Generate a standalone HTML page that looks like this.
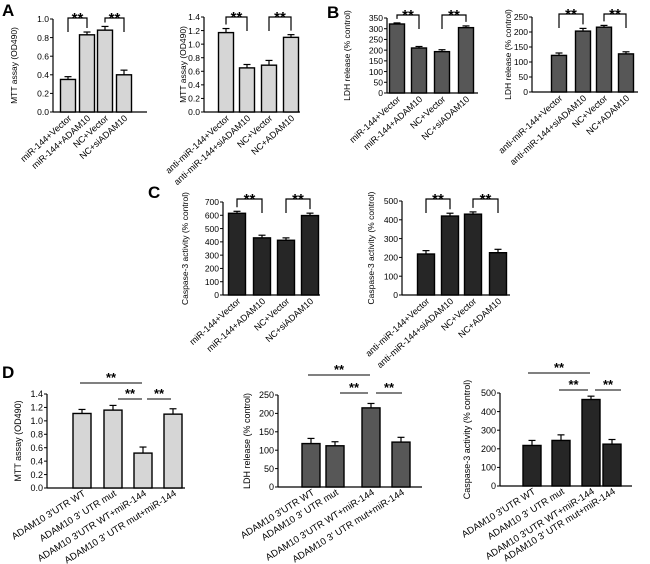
<!DOCTYPE html>
<html><head><meta charset="utf-8"><style>
html,body{margin:0;padding:0;background:#fff;}
svg{display:block;font-family:"Liberation Sans",Arial,sans-serif;}
</style></head><body>
<svg id="fig" width="650" height="564" viewBox="0 0 650 564">
<text x="2" y="16" font-size="17" font-weight="bold">A</text>
<text x="327" y="18" font-size="17" font-weight="bold">B</text>
<text x="148" y="198" font-size="17" font-weight="bold">C</text>
<text x="2" y="378" font-size="17" font-weight="bold">D</text>
</svg>
<script>
const catsA1 = ["miR-144+Vector","miR-144+ADAM10","NC+Vector","NC+siADAM10"];
const catsA2 = ["anti-miR-144+Vector","anti-miR-144+siADAM10","NC+Vector","NC+ADAM10"];
const catsD = ["ADAM10 3'UTR WT","ADAM10 3' UTR mut","ADAM10 3'UTR WT+miR-144","ADAM10 3' UTR mut+miR-144"];
const a1Values = [0.35,0.83,0.88,0.40]; const a1Errors = [0.03,0.03,0.04,0.05];
const a2Values = [1.17,0.65,0.69,1.10]; const a2Errors = [0.06,0.05,0.07,0.04];
const b1Values = [322,210,193,305]; const b1Errors = [5,7,9,8];
const b2Values = [122,203,216,127]; const b2Errors = [8,9,6,7];
const c1Values = [615,430,412,598]; const c1Errors = [15,20,18,18];
const c2Values = [218,420,430,225]; const c2Errors = [18,15,12,18];
const d1Values = [1.11,1.16,0.52,1.10]; const d1Errors = [0.06,0.07,0.09,0.08];
const d2Values = [118,112,215,122]; const d2Errors = [14,11,12,13];
const d3Values = [218,245,465,225]; const d3Errors = [27,30,18,25];
const ticksMTT1 = ["0.0","0.2","0.4","0.6","0.8","1.0"];
const ticksMTT14 = ["0.0","0.2","0.4","0.6","0.8","1.0","1.2","1.4"];
const ticksLDH350 = ["0","50","100","150","200","250","300","350"];
const ticksLDH250 = ["0","50","100","150","200","250"];
const ticksC700 = ["0","100","200","300","400","500","600","700"];
const ticksC500 = ["0","100","200","300","400","500"];

const svg = document.getElementById('fig');
const NS = 'http://www.w3.org/2000/svg';
function mk(tag, attrs, parent){
  const e = document.createElementNS(NS, tag);
  for (const k in attrs) e.setAttribute(k, attrs[k]);
  (parent||svg).appendChild(e); return e;
}
function panel(p){
  const g = mk('g', {});
  
  
  const ticks = p.ticks;
  const ymax = parseFloat(ticks[ticks.length-1]);
  const yScale = v => p.y0 - (v / ymax) * (p.y0 - p.yTop);
  const ya = mk('line', {x1:p.ax, y1:p.yTop, x2:p.ax, y2:p.y0, stroke:'#000','stroke-width':1.2}, g);
  
  
  const xa = mk('line', {x1:p.ax, y1:p.y0, x2:p.axEnd, y2:p.y0, stroke:'#000','stroke-width':1.2}, g);
  
  
  ticks.forEach(t => {
    const y = yScale(parseFloat(t));
    mk('line', {x1:p.ax-3, y1:y, x2:p.ax, y2:y, stroke:'#000','stroke-width':1}, g);
    const tx = mk('text', {x:p.ax-4, y:y+3.2, 'font-size':p.fs, 'text-anchor':'end'}, g);
    tx.textContent = t;
    
    
  });
  const yl = mk('text', {x:0, y:0, 'font-size':p.fs, 'text-anchor':'middle',
    transform:`translate(${p.ylx},${(p.y0+p.yTop)/2}) rotate(-90)`}, g);
  yl.textContent = p.ylabel;
  
  
  p.values.forEach((v, i) => {
    const cx = p.bx[i];
    const top = yScale(v), eTop = yScale(v + p.errors[i]);
    mk('line', {x1:cx, y1:eTop, x2:cx, y2:top, stroke:'#000','stroke-width':1.2}, g);
    mk('line', {x1:cx-3.5, y1:eTop, x2:cx+3.5, y2:eTop, stroke:'#000','stroke-width':1.2}, g);
    const r = mk('rect', {x:cx-p.bw/2, y:top, width:p.bw, height:p.y0-top, fill:p.color, stroke:'#000','stroke-width':1.4}, g);
    
    
    const lt = mk('text', {x:0, y:0, 'font-size':p.xfs, 'text-anchor':'end',
      transform:`translate(${cx+4},${p.y0+7}) rotate(${p.rot})`}, g);
    lt.textContent = p.cats[i];
    
    
  });
  if (p.brY !== undefined) {
    [[0,1],[2,3]].forEach(([a,b]) => {
      const la = Math.min(yScale(p.values[a]+p.errors[a]) - 4, p.brY + 14);
      const lb = Math.min(yScale(p.values[b]+p.errors[b]) - 4, p.brY + 14);
      const pl = mk('polyline', {points:`${p.bx[a]},${la} ${p.bx[a]},${p.brY} ${p.bx[b]},${p.brY} ${p.bx[b]},${lb}`, fill:'none', stroke:'#000','stroke-width':1.2}, g);
      
      
      const st = mk('text', {x:(p.bx[a]+p.bx[b])/2, y:p.brY+5, 'font-size':15, 'font-weight':'bold', 'text-anchor':'middle'}, g);
      st.textContent = '**';
      
      
    });
  }
  if (p.lines) {
    p.lines.forEach(L => {
      const ln = mk('line', {x1:L[0], y1:L[2], x2:L[1], y2:L[2], stroke:'#000','stroke-width':1}, g);
      
      
      const st = mk('text', {x:(L[0]+L[1])/2, y:L[2]-1, 'font-size':13, 'font-weight':'bold', 'text-anchor':'middle'}, g);
      st.textContent = '**';
      
      
    });
  }
}
const LIGHT = '#d6d6d6', MID = '#575757', DARK = '#262626';
panel({name:'panel-a-left', ticks:ticksMTT1, values:a1Values, errors:a1Errors, cats:catsA1, ax:53, axEnd:147, y0:112, yTop:19, bx:[68,87,105,124], bw:15, color:LIGHT, ylabel:'MTT assay (OD490)', ylx:17, fs:8.5, xfs:9, rot:-42, brY:18});
panel({name:'panel-a-right', ticks:ticksMTT14, values:a2Values, errors:a2Errors, cats:catsA2, ax:204, axEnd:300, y0:112, yTop:17, bx:[226,247,269,291], bw:15, color:LIGHT, ylabel:'MTT assay (OD490)', ylx:186, fs:8.5, xfs:9, rot:-42, brY:17});
panel({name:'panel-b-left', ticks:ticksLDH350, values:b1Values, errors:b1Errors, cats:catsA1, ax:387, axEnd:478, y0:93, yTop:18, bx:[397,419,442,466], bw:15, color:MID, ylabel:'LDH release (% control)', ylx:350, fs:8.5, xfs:9, rot:-42, brY:15});
panel({name:'panel-b-right', ticks:ticksLDH250, values:b2Values, errors:b2Errors, cats:catsA2, ax:532, axEnd:638, y0:92, yTop:17, bx:[559,583,604,626], bw:15, color:MID, ylabel:'LDH release (% control)', ylx:511, fs:8.5, xfs:9, rot:-42, brY:14});
panel({name:'panel-c-left', ticks:ticksC700, values:c1Values, errors:c1Errors, cats:catsA1, ax:223, axEnd:320, y0:295, yTop:202, bx:[237,262,286,310], bw:17, color:DARK, ylabel:'Caspase-3 activity (% control)', ylx:188, fs:8.5, xfs:9, rot:-42, brY:199});
panel({name:'panel-c-right', ticks:ticksC500, values:c2Values, errors:c2Errors, cats:catsA2, ax:402, axEnd:510, y0:295, yTop:201, bx:[426,450,473,498], bw:17, color:DARK, ylabel:'Caspase-3 activity (% control)', ylx:374, fs:8.5, xfs:9, rot:-42, brY:199});
panel({name:'panel-d-left', ticks:ticksMTT14, values:d1Values, errors:d1Errors, cats:catsD, ax:47, axEnd:185, y0:488, yTop:394, bx:[82,113,143,173], bw:18, color:LIGHT, ylabel:'MTT assay (OD490)', ylx:21, fs:9, xfs:9.5, rot:-32, lines:[[80,142,383],[118,142,399],[147,171,399]]});
panel({name:'panel-d-middle', ticks:ticksLDH250, values:d2Values, errors:d2Errors, cats:catsD, ax:278, axEnd:422, y0:487, yTop:395, bx:[311,335,371,401], bw:18, color:MID, ylabel:'LDH release (% control)', ylx:250, fs:9, xfs:9.5, rot:-32, lines:[[308,370,375],[340,368,393],[376,402,393]]});
panel({name:'panel-d-right', ticks:ticksC500, values:d3Values, errors:d3Errors, cats:catsD, ax:500, axEnd:632, y0:486, yTop:393, bx:[532,561,591,612], bw:18, color:DARK, ylabel:'Caspase-3 activity (% control)', ylx:470, fs:9, xfs:9.5, rot:-32, lines:[[528,590,373],[559,588,390],[595,621,390]]});
</script>
</body></html>
